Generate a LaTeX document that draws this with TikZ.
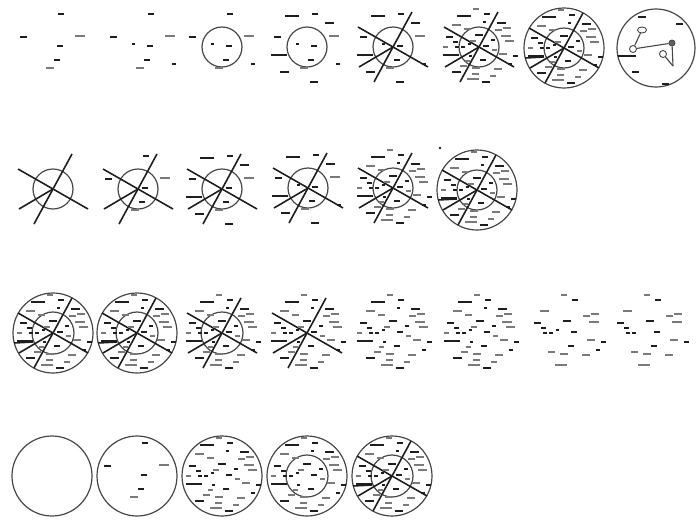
\documentclass[tikz,border=0pt]{standalone}
\usepackage{tikz}
\usetikzlibrary{shapes.geometric}
\definecolor{inkdark}{HTML}{1E1E1E}
\definecolor{inklight}{HTML}{7A7A7A}
\definecolor{ringgray}{HTML}{474747}

% label blobs: dx/dy/width/colour, relative to a panel centre
\newcommand{\corelist}{8/-33/6/inkdark, -30/-10/7/inkdark, 27/-11/10/inklight, 7/-1/6/inkdark, 4/13/6/inkdark, -3/21/8/inklight}
\newcommand{\extralist}{-10/-3/3/inkdark, 31/17/4/inkdark}
\newcommand{\outerlist}{-15/-31/14/inkdark, 22/-24/9/inkdark, -28/8/16/inkdark, -23/25/9/inkdark, 7/35/8/inkdark}
\newcommand{\denselist}{-3/-38/6/inklight, -23/-22/9/inklight, -12/-18/7/inklight, 5/-25/3/inkdark, 19/-17/7/inklight, 28/-19/8/inklight, 30/-6/9/inklight, 0/-12/8/inkdark, -24/-5/5/inkdark, -6/-6/6/inklight, 14/-7/4/inkdark, -34/0/5/inklight, -22/0/4/inkdark, -16/0/4/inkdark, 15/3/5/inklight, 24/7/8/inklight, 36/9/5/inkdark, -9/9/3/inkdark, -16/19/7/inklight, -4/27/7/inklight, 19/22/8/inklight, -6/32/12/inklight, -12/14/5/inklight, 14/29/6/inklight}
\newcommand{\sparselist}{-3/-38/6/inklight, -23/-22/9/inklight, 19/-17/7/inklight, 28/-19/8/inklight, 0/-12/8/inkdark, -24/-5/5/inkdark, -22/0/4/inkdark, -16/0/4/inkdark, 24/7/8/inklight, 36/9/5/inkdark, -16/19/7/inklight, 19/22/8/inklight, -6/32/12/inklight}
\newcommand{\hublist}{-14/-31/8/inkdark, 23/-24/7/inkdark, -21/24/7/inkdark, 9/36/7/inkdark}

\newcommand{\blobs}[3]{\foreach \dx/\dy/\w/\c in #3 {\fill[fill=\c] ({#1+(\dx)-(\w)/2},{#2+(\dy)-1}) rectangle ++(\w,2);}}
\newcommand{\allblobs}[2]{\blobs{#1}{#2}{\corelist}\blobs{#1}{#2}{\extralist}\blobs{#1}{#2}{\outerlist}\blobs{#1}{#2}{\denselist}}
\newcommand{\ring}[3]{\draw[ring] (#1,#2) circle (#3);}
\newcommand{\cuts}[2]{%
  \draw[cut] (#1,#2) ++(-35,-20) -- ++(70,40);
  \draw[cut] (#1,#2) ++(19,-35) -- ++(-38,70);
  \draw[cut] (#1,#2) -- ++(-34,20);}
\newcommand{\stub}[2]{\draw[cut] (#1,#2) ++(-39,10) -- ++(19,-1);}

\begin{document}
\begin{tikzpicture}[x=1pt, y=-1pt,
    ring/.style={draw=ringgray, line width=1.2pt},
    cut/.style={draw=inkdark, line width=1.6pt},
    hub/.style={draw=ringgray, line width=0.9pt, inner sep=0pt}]
  \useasboundingbox (0,0) rectangle (697,520);

  % row 1
  \blobs{53}{47}{\corelist}
  \blobs{143}{47}{\corelist}\blobs{143}{47}{\extralist}
  \ring{222}{47}{20}\blobs{222}{47}{\corelist}\blobs{222}{47}{\extralist}
  \ring{307}{47}{20}\blobs{307}{47}{\corelist}\blobs{307}{47}{\extralist}\blobs{307}{47}{\outerlist}
  \ring{393}{47}{20}\cuts{393}{47}\blobs{393}{47}{\corelist}\blobs{393}{47}{\extralist}\blobs{393}{47}{\outerlist}
  \ring{479}{47}{20}\cuts{479}{47}\allblobs{479}{47}
  \ring{564}{48}{40}\ring{564}{48}{20}\cuts{564}{48}\stub{564}{48}\allblobs{564}{48}

  % row 1, last panel
  \ring{656}{48}{39}
  \node[hub, ellipse, minimum width=9pt, minimum height=6pt] (e1) at (642,30) {};
  \node[hub, circle, minimum size=7pt] (h1) at (633,49) {};
  \node[hub, circle, minimum size=6pt, fill=inkdark!70] (h2) at (672,43) {};
  \node[hub, circle, minimum size=7pt] (h3) at (663,54) {};
  \coordinate (tip) at (673,66);
  \draw[ringgray, line width=1.1pt] (h1) -- (e1);
  \draw[ringgray, line width=1.1pt] (h1) -- (h2);
  \draw[ringgray, line width=1.1pt] (h2) -- (tip);
  \draw[ringgray, line width=1.1pt] (h3) -- (tip);
  \draw[cut] (617.5,56) -- (636,56);
  \blobs{656}{48}{\hublist}

  % row 2
  \ring{53}{189}{20}\cuts{53}{189}
  \ring{138}{189}{20}\cuts{138}{189}\blobs{138}{189}{\corelist}
  \ring{222}{189}{20}\cuts{222}{189}\blobs{222}{189}{\corelist}\blobs{222}{189}{\outerlist}
  \ring{308}{188}{20}\cuts{308}{188}\blobs{308}{188}{\corelist}\blobs{308}{188}{\extralist}\blobs{308}{188}{\outerlist}
  \ring{393}{188}{20}\cuts{393}{188}\allblobs{393}{188}
  \ring{477}{190}{40}\ring{477}{190}{20}\cuts{477}{190}\stub{477}{190}\allblobs{477}{190}
  \fill[inkdark] (440,148) circle (1.3);

  % row 3
  \ring{53}{333}{40}\ring{53}{333}{21}\cuts{53}{333}\stub{53}{333}\allblobs{53}{333}
  \ring{137}{333}{40}\ring{137}{333}{21}\cuts{137}{333}\stub{137}{333}\allblobs{137}{333}
  \ring{222}{333}{21}\cuts{222}{333}\allblobs{222}{333}
  \cuts{307}{333}\allblobs{307}{333}
  \allblobs{393}{333}
  \allblobs{480}{333}
  \blobs{567}{333}{\corelist}\blobs{567}{333}{\extralist}\blobs{567}{333}{\sparselist}
  \blobs{650}{333}{\corelist}\blobs{650}{333}{\sparselist}

  % row 4
  \ring{52}{476}{40}
  \ring{137}{476}{40}\blobs{137}{476}{\corelist}
  \ring{222}{476}{40}\allblobs{222}{476}
  \ring{307}{476}{40}\ring{307}{476}{21}\allblobs{307}{476}
  \ring{392}{476}{40}\ring{392}{476}{21}\cuts{392}{476}\stub{392}{476}\allblobs{392}{476}
\end{tikzpicture}
\end{document}
